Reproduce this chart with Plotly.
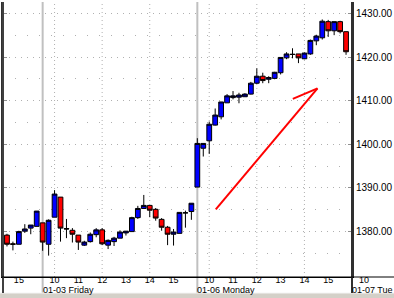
import plotly.graph_objects as go

# 15-minute candles; slot 0 = 01-03 09:30, 26 slots per session
slot = list(range(-6, 52))
opens = [1379.2, 1377.2, 1377.1, 1380.1, 1380.8, 1381.2,
         1382.0, 1377.1, 1383.3, 1387.9, 1380.7, 1380.3, 1379.2, 1376.9, 1377.7, 1379.3,
         1380.4, 1376.9, 1377.7, 1378.5, 1379.7, 1380.0, 1383.2, 1385.3, 1386.0, 1385.1,
         1382.8, 1381.0, 1379.4, 1379.6, 1384.3, 1384.6,
         1390.2, 1399.1, 1400.8, 1404.4, 1406.3, 1409.5, 1410.7, 1410.8, 1410.9, 1411.5,
         1414.0, 1415.6, 1414.9, 1415.1, 1416.4, 1419.8, 1420.6, 1420.7, 1419.6, 1420.7,
         1423.7, 1424.4, 1428.1, 1426.0, 1428.1, 1425.8]
highs = [1379.5, 1377.7, 1380.2, 1381.7, 1381.5, 1384.7,
         1382.0, 1382.8, 1389.5, 1387.9, 1382.9, 1380.8, 1379.2, 1377.9, 1379.8, 1380.8,
         1380.8, 1378.2, 1378.8, 1380.3, 1380.1, 1383.4, 1385.9, 1388.4, 1386.0, 1385.4,
         1383.1, 1381.3, 1380.6, 1384.4, 1384.8, 1386.5,
         1401.4, 1400.2, 1405.2, 1408.2, 1409.7, 1411.5, 1412.2, 1411.8, 1411.7, 1414.3,
         1417.4, 1416.4, 1415.6, 1416.6, 1419.9, 1421.1, 1422.0, 1420.7, 1421.0, 1424.0,
         1425.1, 1428.6, 1428.5, 1428.1, 1428.3, 1425.8]
lows = [1376.6, 1375.7, 1377.1, 1379.7, 1379.4, 1381.2,
        1375.6, 1374.5, 1383.3, 1377.7, 1378.5, 1377.5, 1375.8, 1376.7, 1377.5, 1378.7,
        1376.9, 1376.0, 1376.7, 1378.5, 1379.1, 1380.0, 1382.9, 1385.3, 1383.3, 1382.5,
        1380.2, 1376.9, 1376.8, 1379.6, 1380.9, 1382.7,
        1390.2, 1397.2, 1397.8, 1404.3, 1405.7, 1409.5, 1410.3, 1409.4, 1410.9, 1411.4,
        1413.8, 1414.0, 1414.0, 1414.9, 1416.0, 1419.5, 1419.7, 1418.6, 1419.5, 1420.5,
        1422.7, 1424.0, 1424.6, 1425.0, 1425.4, 1420.5]
closes = [1377.1, 1377.1, 1380.0, 1380.6, 1381.5, 1384.7,
          1377.6, 1382.6, 1388.6, 1380.8, 1380.6, 1379.4, 1377.6, 1377.6, 1379.4, 1380.4,
          1377.2, 1378.0, 1378.5, 1379.9, 1380.1, 1383.2, 1385.3, 1386.0, 1384.9, 1383.1,
          1381.0, 1379.4, 1379.9, 1384.4, 1384.3, 1386.5,
          1400.2, 1400.2, 1404.6, 1406.7, 1409.7, 1411.1, 1411.1, 1411.3, 1411.5, 1414.0,
          1415.6, 1414.6, 1415.3, 1416.5, 1419.9, 1420.7, 1420.6, 1419.8, 1420.9, 1423.8,
          1424.8, 1428.2, 1426.0, 1428.1, 1425.8, 1421.2]

day_labels = ["01-03 Friday", "01-06 Monday", "01-07 Tue"]
day_start_slots = [0, 26, 52]
hour_tick_slots = [-4, 2, 6, 10, 14, 18, 22, 28, 32, 36, 40, 44, 48]
hour_tick_text = ["15", "10", "11", "12", "13", "14", "15", "10", "11", "12", "13", "14", "15"]
next_day_hour_slot = 54
next_day_hour_text = "10"
grid_slots = [2, 10, 18, 28, 36, 44]
price_ticks = [1380, 1390, 1400, 1410, 1420, 1430]
price_text = ["%.2f" % v for v in price_ticks]

W, H = 394, 298
L, R, T, B = 1, 41, 2, 21
PW, PH = W - L - R, H - T - B
xr = [-6.667, 52]
yr = [1369.6, 1432.6]


def px2paper_x(px):
    return (px - L) / PW


def px2paper_y(py):
    return (H - B - py) / PH


def slot2paper(s):
    return (s - xr[0]) / (xr[1] - xr[0])


FONT = dict(family="Liberation Sans, Arial, sans-serif", size=10, color="black")
SMALL = dict(family="Liberation Sans, Arial, sans-serif", size=9, color="black")

fig = go.Figure()
fig.add_trace(go.Candlestick(
    x=slot, open=opens, high=highs, low=lows, close=closes,
    increasing=dict(fillcolor="#0000ff", line=dict(color="black", width=1)),
    decreasing=dict(fillcolor="#ff0000", line=dict(color="black", width=1)),
    whiskerwidth=0, showlegend=False, hoverinfo="skip",
))

label_bottom = px2paper_y(293)
shapes = []
# window chrome bands
shapes.append(dict(type="rect", xref="paper", yref="paper", x0=px2paper_x(-2), x1=px2paper_x(W + 2),
                   y0=px2paper_y(293), y1=px2paper_y(H + 2), fillcolor="#d4d0c8", line=dict(width=0), layer="above"))
shapes.append(dict(type="line", xref="paper", yref="paper", x0=px2paper_x(-2), x1=px2paper_x(W + 2),
                   y0=px2paper_y(293), y1=px2paper_y(293), line=dict(color="#f4f4f4", width=1)))
shapes.append(dict(type="rect", xref="paper", yref="paper", x0=px2paper_x(-2), x1=px2paper_x(W + 2),
                   y0=px2paper_y(0), y1=px2paper_y(-3), fillcolor="#8c8c8c", line=dict(width=0)))
# vertical dotted gridlines at 10, 12, 14 h
for s in grid_slots:
    shapes.append(dict(type="line", xref="x", yref="paper", x0=s, x1=s, y0=0, y1=1,
                       line=dict(color="#b0b0b0", width=1, dash="1px,3px"), layer="below"))
# day separators
for s in day_start_slots[:2]:
    shapes.append(dict(type="line", xref="x", yref="paper", x0=s, x1=s, y0=label_bottom, y1=1,
                       line=dict(color="#c0c0c0", width=2), layer="below"))
# borders extending through label area
shapes.append(dict(type="line", xref="paper", yref="paper", x0=1, x1=1, y0=label_bottom, y1=1,
                   line=dict(color="#303030", width=2)))
shapes.append(dict(type="line", xref="paper", yref="paper", x0=0, x1=0, y0=label_bottom, y1=1,
                   line=dict(color="#404040", width=2)))
# axis line extension
shapes.append(dict(type="line", xref="paper", yref="paper", x0=px2paper_x(0), x1=px2paper_x(W + 2),
                   y0=0, y1=0, line=dict(color="black", width=1)))
# hand-drawn red arrow
shapes.append(dict(type="line", xref="x", yref="y", x0=29.1, y0=1385.1, x1=46.2, y1=1412.8,
                   line=dict(color="#ff0000", width=2)))
shapes.append(dict(type="line", xref="x", yref="y", x0=42.05, y0=1410.4, x1=46.2, y1=1412.8,
                   line=dict(color="#ff0000", width=2)))

annotations = []
for s, t in zip(day_start_slots, day_labels):
    annotations.append(dict(xref="paper", yref="paper", x=slot2paper(s), y=px2paper_y(289.5),
                            text=t, showarrow=False, xanchor="left", yanchor="middle", xshift=-2,
                            font=SMALL))
annotations.append(dict(xref="paper", yref="paper", x=slot2paper(next_day_hour_slot), y=px2paper_y(280),
                        text=next_day_hour_text, showarrow=False, xanchor="center", yanchor="middle",
                        font=SMALL))

fig.update_layout(
    width=W, height=H,
    margin=dict(l=L, r=R, t=T, b=B, pad=0),
    paper_bgcolor="white", plot_bgcolor="white",
    boxgap=0.2, boxgroupgap=0,
    shapes=shapes, annotations=annotations,
    xaxis=dict(
        range=xr, rangeslider=dict(visible=False), tickmode="array",
        tickvals=hour_tick_slots, ticktext=hour_tick_text, showgrid=False, zeroline=False,
        showline=True, linecolor="black", linewidth=1, ticks="", tickfont=SMALL,
        ticklabelstandoff=-6,
    ),
    yaxis=dict(
        range=yr, side="right", tickmode="array", tickvals=price_ticks, ticktext=price_text,
        showgrid=True, gridcolor="#b0b0b0", griddash="1px,5px", gridwidth=1,
        minor=dict(tickmode="linear", tick0=1375, dtick=10, showgrid=True, gridcolor="#b0b0b0",
                   griddash="1px,11px", gridwidth=1),
        zeroline=False, showline=True, mirror="ticks", linecolor="#303030", linewidth=2,
        ticks="inside", ticklen=4, tickcolor="#909090", tickfont=FONT,
    ),
)

fig.write_html("out.html")
